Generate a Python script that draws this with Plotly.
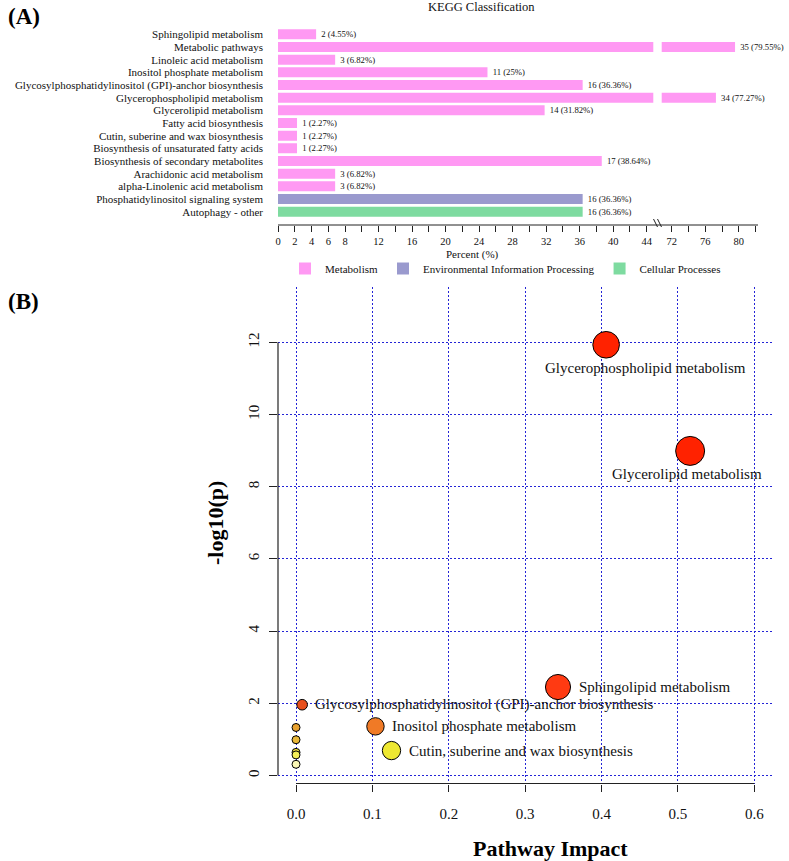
import math
import plotly.graph_objects as go

W, H = 789, 861
SERIF = "Liberation Serif, Times New Roman, serif"

# ---------------- Panel A data (KEGG classification) ----------------
pathways = [
    "Sphingolipid metabolism",
    "Metabolic pathways",
    "Linoleic acid metabolism",
    "Inositol phosphate metabolism",
    "Glycosylphosphatidylinositol (GPI)-anchor biosynthesis",
    "Glycerophospholipid metabolism",
    "Glycerolipid metabolism",
    "Fatty acid biosynthesis",
    "Cutin, suberine and wax biosynthesis",
    "Biosynthesis of unsaturated fatty acids",
    "Biosynthesis of secondary metabolites",
    "Arachidonic acid metabolism",
    "alpha-Linolenic acid metabolism",
    "Phosphatidylinositol signaling system",
    "Autophagy - other",
]
gene_counts = [2, 35, 3, 11, 16, 34, 14, 1, 1, 1, 17, 3, 3, 16, 16]
percents = [4.55, 79.55, 6.82, 25, 36.36, 77.27, 31.82, 2.27, 2.27, 2.27, 38.64, 6.82, 6.82, 36.36, 36.36]
classes = ["Metabolism"] * 13 + ["Environmental Information Processing", "Cellular Processes"]
class_order = ["Metabolism", "Environmental Information Processing", "Cellular Processes"]

# broken percent axis
low_ticks = list(range(0, 45, 2))
low_ticktext = [str(v) if (v <= 8 or v % 4 == 0) else "" for v in low_ticks]
high_ticks = [72, 74, 76, 78, 80, 82]
high_ticktext = [str(v) if v % 4 == 0 else "" for v in high_ticks]
break_low, break_high = 44.79, 70.8

# ---------------- Panel B data (pathway impact) ----------------
pw_names = [
    "Glycerophospholipid metabolism",
    "Glycerolipid metabolism",
    "Sphingolipid metabolism",
    "Glycosylphosphatidylinositol (GPI)-anchor biosynthesis",
    "Inositol phosphate metabolism",
    "Cutin, suberine and wax biosynthesis",
    "", "", "", "", "",
]
impact = [0.406, 0.516, 0.343, 0.008, 0.104, 0.125, 0.0, 0.0, 0.0, 0.0, 0.0]
neglogp = [11.93, 8.99, 2.45, 1.96, 1.36, 0.69, 1.33, 0.99, 0.64, 0.57, 0.31]
impact_ticks = [0, 0.1, 0.2, 0.3, 0.4, 0.5, 0.6]
p_ticks = [0, 2, 4, 6, 8, 10, 12]

# ---------------- styles ----------------
class_colors = {
    "Metabolism": "#FF99F3",
    "Environmental Information Processing": "#9A9ACE",
    "Cellular Processes": "#7EDBA0",
}
point_colors = ["#FF2200", "#FF2200", "#FF3A12", "#E8501C", "#F07A26", "#EEE832",
                "#E8A232", "#E9B83A", "#F0E040", "#F3EE58", "#FBF8B6"]
label_style = [("below", 39), ("below", -3), ("right", 0), ("right", 0), ("right", 0), ("right", 0),
               None, None, None, None, None]


def fx(px):
    return px / W


def fy(py):
    return 1 - py / H


def bar_label(c, p):
    return f"{c} ({p:g}%)"


fig = go.Figure()

# Panel A bars: low segment (x) and high segment beyond the break (x2)
for cls in class_order:
    idx = [i for i in range(len(pathways)) if classes[i] == cls]
    fig.add_trace(go.Bar(
        y=[pathways[i] for i in idx],
        x=[percents[i] for i in idx],
        orientation="h",
        name=cls,
        marker=dict(color=class_colors[cls], line=dict(width=0)),
        text=[bar_label(gene_counts[i], percents[i]) if percents[i] < break_low else "" for i in idx],
        texttemplate="\u00a0%{text}",
        textposition="outside",
        cliponaxis=False,
        constraintext="none",
        textfont=dict(size=8.7, family=SERIF, color="#111"),
        xaxis="x", yaxis="y",
        hoverinfo="skip",
    ))
    hidx = [i for i in idx if percents[i] > break_high]
    if hidx:
        fig.add_trace(go.Bar(
            y=[pathways[i] for i in hidx],
            x=[percents[i] for i in hidx],
            orientation="h",
            name=cls,
            showlegend=False,
            marker=dict(color=class_colors[cls], line=dict(width=0)),
            text=[bar_label(gene_counts[i], percents[i]) for i in hidx],
            texttemplate="\u00a0%{text}",
            textposition="outside",
            cliponaxis=False,
            constraintext="none",
            textfont=dict(size=8.7, family=SERIF, color="#111"),
            xaxis="x2", yaxis="y",
            hoverinfo="skip",
        ))

# Panel B scatter
sizes = [8 + 21 * math.sqrt(v / max(impact)) for v in impact]
fig.add_trace(go.Scatter(
    x=impact, y=neglogp, mode="markers",
    marker=dict(size=sizes, color=point_colors, line=dict(color="black", width=1), opacity=1),
    xaxis="x3", yaxis="y3", showlegend=False, text=pw_names, hoverinfo="text",
))

annotations = []
for name, xv, yv, s, st in zip(pw_names, impact, neglogp, sizes, label_style):
    if not st:
        continue
    mode, dx = st
    if mode == "below":
        annotations.append(dict(x=xv, y=yv, xref="x3", yref="y3", text=name, showarrow=False,
                                xanchor="center", yanchor="middle", xshift=dx, yshift=-23,
                                font=dict(size=15, family=SERIF, color="#111")))
    else:
        annotations.append(dict(x=xv, y=yv, xref="x3", yref="y3", text=name, showarrow=False,
                                xanchor="left", yanchor="middle", xshift=s / 2 + 6,
                                font=dict(size=15, family=SERIF, color="#111")))

annotations += [
    dict(x=fx(6), y=fy(17), xref="paper", yref="paper", text="<b>(A)</b>", showarrow=False,
         xanchor="left", yanchor="middle", font=dict(size=23, family=SERIF, color="black")),
    dict(x=fx(6), y=fy(301), xref="paper", yref="paper", text="<b>(B)</b>", showarrow=False,
         xanchor="left", yanchor="middle", font=dict(size=23, family=SERIF, color="black")),
    dict(x=fx(481), y=fy(7), xref="paper", yref="paper", text="KEGG Classification", showarrow=False,
         xanchor="center", yanchor="middle", font=dict(size=12.5, family=SERIF, color="#111")),
    dict(x=fx(472), y=fy(254), xref="paper", yref="paper", text="Percent (%)", showarrow=False,
         xanchor="center", yanchor="middle", font=dict(size=11, family=SERIF, color="#111")),
    dict(x=fx(550), y=fy(848), xref="paper", yref="paper", text="<b>Pathway Impact</b>", showarrow=False,
         xanchor="center", yanchor="middle", font=dict(size=22, family=SERIF, color="black")),
    dict(x=fx(215), y=fy(523), xref="paper", yref="paper", text="<b>-log10(p)</b>", showarrow=False,
         textangle=-90, xanchor="center", yanchor="middle", font=dict(size=22, family=SERIF, color="black")),
]

shapes = [
    # Panel A continuous percent axis line with break mark
    dict(type="line", xref="paper", yref="paper", x0=fx(278), x1=fx(758), y0=fy(225), y1=fy(225),
         line=dict(color="#222", width=1)),
    dict(type="line", xref="paper", yref="paper", x0=fx(653.5), x1=fx(657.5), y0=fy(219), y1=fy(227),
         line=dict(color="#222", width=1)),
    dict(type="line", xref="paper", yref="paper", x0=fx(657.5), x1=fx(661.5), y0=fy(219), y1=fy(227),
         line=dict(color="#222", width=1)),
    # Panel B R-style axis lines
    dict(type="line", xref="x3", yref="y3 domain", x0=impact_ticks[0], x1=impact_ticks[-1], y0=0, y1=0,
         line=dict(color="#222", width=1.2)),
    dict(type="line", xref="x3 domain", yref="y3", x0=0, x1=0, y0=p_ticks[0], y1=p_ticks[-1],
         line=dict(color="#222", width=1.2)),
]

n_cat = len(pathways)
grid = dict(showgrid=True, gridcolor="#2424D6", gridwidth=1, griddash="2px,2px")

fig.update_layout(
    width=W, height=H,
    margin=dict(l=0, r=0, t=0, b=0),
    paper_bgcolor="white", plot_bgcolor="white",
    font=dict(family=SERIF, color="#111"),
    barmode="overlay", bargap=0.21,
    showlegend=True,
    legend=dict(orientation="h", x=fx(285), y=fy(254), xanchor="left", yanchor="top",
                font=dict(size=11, family=SERIF, color="#111"), bgcolor="rgba(0,0,0,0)",
                itemclick=False, itemdoubleclick=False),
    xaxis=dict(domain=[fx(278), fx(653.3)], range=[0, break_low], anchor="y",
               tickvals=low_ticks, ticktext=low_ticktext, ticks="outside", ticklen=6,
               tickcolor="#222", showline=False, showgrid=False, zeroline=False,
               tickfont=dict(size=10.5, family=SERIF, color="#111"), automargin=False),
    xaxis2=dict(domain=[fx(661.7), fx(758)], range=[break_high, 82.29], anchor="y",
                tickvals=high_ticks, ticktext=high_ticktext, ticks="outside", ticklen=6,
                tickcolor="#222", showline=False, showgrid=False, zeroline=False,
                tickfont=dict(size=10.5, family=SERIF, color="#111"), automargin=False),
    yaxis=dict(domain=[fy(225), fy(28)], anchor="x", type="category",
               categoryorder="array", categoryarray=pathways,
               tickmode="array", tickvals=pathways, ticktext=pathways,
               range=[n_cat - 0.5 + 0.55, -0.5], ticks="", showline=False, showgrid=False,
               zeroline=False, ticklabelstandoff=14,
               tickfont=dict(size=11, family=SERIF, color="#111"), automargin=False),
    xaxis3=dict(domain=[fx(278), fx(773)], range=[-0.0236, 0.6245], anchor="y3",
                tickvals=impact_ticks, ticktext=[f"{v:.1f}" for v in impact_ticks],
                ticks="outside", ticklen=7, tickcolor="#222", showline=False, zeroline=False,
                ticklabelstandoff=9,
                tickfont=dict(size=15, family=SERIF, color="#111"), automargin=False, **grid),
    yaxis3=dict(domain=[fy(783.5), fy(287)], range=[-0.222, 13.53], anchor="x3",
                tickvals=p_ticks, tickangle=-90, ticks="outside", ticklen=8, tickcolor="#222",
                showline=False, zeroline=False, ticklabelstandoff=4,
                tickfont=dict(size=15, family=SERIF, color="#111"), automargin=False, **grid),
    annotations=annotations,
    shapes=shapes,
)

fig.write_html(
    "out.html",
    config={"displayModeBar": False},
    post_script="document.body.style.margin='0px';document.body.style.overflow='hidden';",
)
